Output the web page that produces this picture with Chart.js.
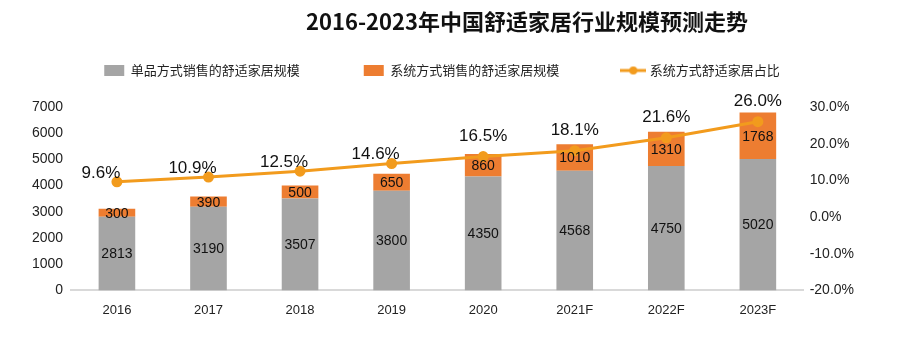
<!DOCTYPE html>
<html>
<head>
<meta charset="utf-8">
<script src="https://cdn.jsdelivr.net/npm/chart.js@4/dist/chart.umd.min.js"></script>
<style>
  html, body { margin: 0; padding: 0; background: #fff; }
  #wrap { width: 900px; height: 349px; }
</style>
</head>
<body>
<div id="wrap"><canvas id="c"></canvas></div>
<script>
var chartTitle = '2016-2023年中国舒适家居行业规模预测走势';
var years = ['2016', '2017', '2018', '2019', '2020', '2021F', '2022F', '2023F'];
var singleSales = [2813, 3190, 3507, 3800, 4350, 4568, 4750, 5020];
var systemSales = [300, 390, 500, 650, 860, 1010, 1310, 1768];
var systemShare = [9.6, 10.9, 12.5, 14.6, 16.5, 18.1, 21.6, 26.0];
var seriesNames = ['单品方式销售的舒适家居规模', '系统方式销售的舒适家居规模', '系统方式舒适家居占比'];

var GRAY = '#A5A5A5', ORANGE = '#ED7D31', LINE = '#F29B1D';
var CJK = '"Noto Sans CJK SC", "Liberation Sans", sans-serif';
var LAT = '"Liberation Sans", sans-serif';

// little line+dot marker for the legend
var lineMark = document.createElement('canvas');
lineMark.width = 26; lineMark.height = 10;
(function () {
  var g = lineMark.getContext('2d');
  g.strokeStyle = LINE; g.lineWidth = 3;
  g.beginPath(); g.moveTo(0, 5); g.lineTo(26, 5); g.stroke();
  g.fillStyle = LINE;
  g.beginPath(); g.arc(13, 5, 4, 0, Math.PI * 2); g.fill();
})();

var labelsPlugin = {
  id: 'valueLabels',
  afterDatasetsDraw: function (chart) {
    var ctx = chart.ctx;
    ctx.save();
    ctx.textAlign = 'center';
    ctx.textBaseline = 'middle';
    ctx.fillStyle = '#111';
    ctx.font = '14px ' + LAT;
    [1, 2].forEach(function (di) {
      var meta = chart.getDatasetMeta(di);
      meta.data.forEach(function (bar, i) {
        var mid = (bar.y + bar.base) / 2;
        ctx.fillText(chart.data.datasets[di].data[i], bar.x, mid + 1);
      });
    });
    // percentage labels: up-left of the point while clear of the bars, straight above later
    var lm = chart.getDatasetMeta(0);
    ctx.font = '17px ' + LAT;
    lm.data.forEach(function (pt, i) {
      var upLeft = i < 4;
      ctx.fillText(systemShare[i].toFixed(1) + '%', pt.x - (upLeft ? 16 : 0), pt.y - (upLeft ? 9 : 20));
    });
    ctx.restore();
  }
};

var titlePlugin = {
  id: 'offsetTitle',
  afterDraw: function (chart) {
    var ctx = chart.ctx;
    ctx.save();
    ctx.font = 'bold 22px ' + CJK;
    ctx.fillStyle = '#111';
    ctx.textAlign = 'center';
    ctx.textBaseline = 'middle';
    ctx.fillText(chartTitle, 527, 22);
    ctx.restore();
  }
};

// legend needs wide horizontal gaps but a fixed block height
var legendFit = {
  id: 'legendFit',
  beforeInit: function (chart) {
    var orig = chart.legend.fit;
    chart.legend.fit = function () {
      orig.call(this);
      this.height = 107;
    };
  }
};

new Chart(document.getElementById('c').getContext('2d'), {
  data: {
    labels: years,
    datasets: [{
      type: 'line',
      label: seriesNames[2],
      data: systemShare,
      yAxisID: 'yr',
      borderColor: LINE,
      backgroundColor: LINE,
      borderWidth: 3,
      pointRadius: 4,
      pointHoverRadius: 4,
      tension: 0,
      order: 0
    }, {
      type: 'bar',
      label: seriesNames[0],
      data: singleSales,
      yAxisID: 'y',
      backgroundColor: GRAY,
      stack: 's',
      order: 1
    }, {
      type: 'bar',
      label: seriesNames[1],
      data: systemSales,
      yAxisID: 'y',
      backgroundColor: ORANGE,
      stack: 's',
      order: 1
    }]
  },
  options: {
    responsive: true,
    maintainAspectRatio: false,
    animation: false,
    layout: { padding: { top: 0, left: 24, right: 40, bottom: 19 } },
    datasets: { bar: { categoryPercentage: 1, barPercentage: 0.4 } },
    plugins: {
      tooltip: { enabled: false },
      legend: {
        position: 'top',
        labels: {
          font: { family: CJK, size: 13 },
          color: '#222',
          padding: 64,
          boxHeight: 11,
          usePointStyle: true,
          pointStyleWidth: 20,
          generateLabels: function () {
            var items = [
              { text: seriesNames[0], pointStyle: 'rect', fillStyle: GRAY, strokeStyle: GRAY, datasetIndex: 1 },
              { text: seriesNames[1], pointStyle: 'rect', fillStyle: ORANGE, strokeStyle: ORANGE, datasetIndex: 2 },
              { text: seriesNames[2], pointStyle: lineMark, fillStyle: LINE, strokeStyle: LINE, datasetIndex: 0 }
            ];
            return items.map(function (it) {
              it.lineWidth = 0; it.hidden = false; it.fontColor = '#222';
              return it;
            });
          }
        }
      }
    },
    scales: {
      x: {
        stacked: true,
        grid: { display: false, drawTicks: false },
        border: { color: '#D9D9D9', width: 2 },
        ticks: { padding: 12, color: '#222', font: { family: LAT, size: 13 } }
      },
      y: {
        stacked: true,
        position: 'left',
        min: 0, max: 7000,
        ticks: {
          stepSize: 1000, padding: 8, color: '#222',
          font: { family: LAT, size: 14 },
          callback: function (v) { return String(v); }
        },
        grid: { display: false, drawTicks: false },
        border: { display: false }
      },
      yr: {
        position: 'right',
        min: -20, max: 30,
        ticks: {
          stepSize: 10, padding: 6, color: '#222',
          font: { family: LAT, size: 14 },
          callback: function (v) { return v.toFixed(1) + '%'; }
        },
        grid: { display: false, drawTicks: false },
        border: { display: false }
      }
    }
  },
  plugins: [legendFit, labelsPlugin, titlePlugin]
});
</script>
</body>
</html>
